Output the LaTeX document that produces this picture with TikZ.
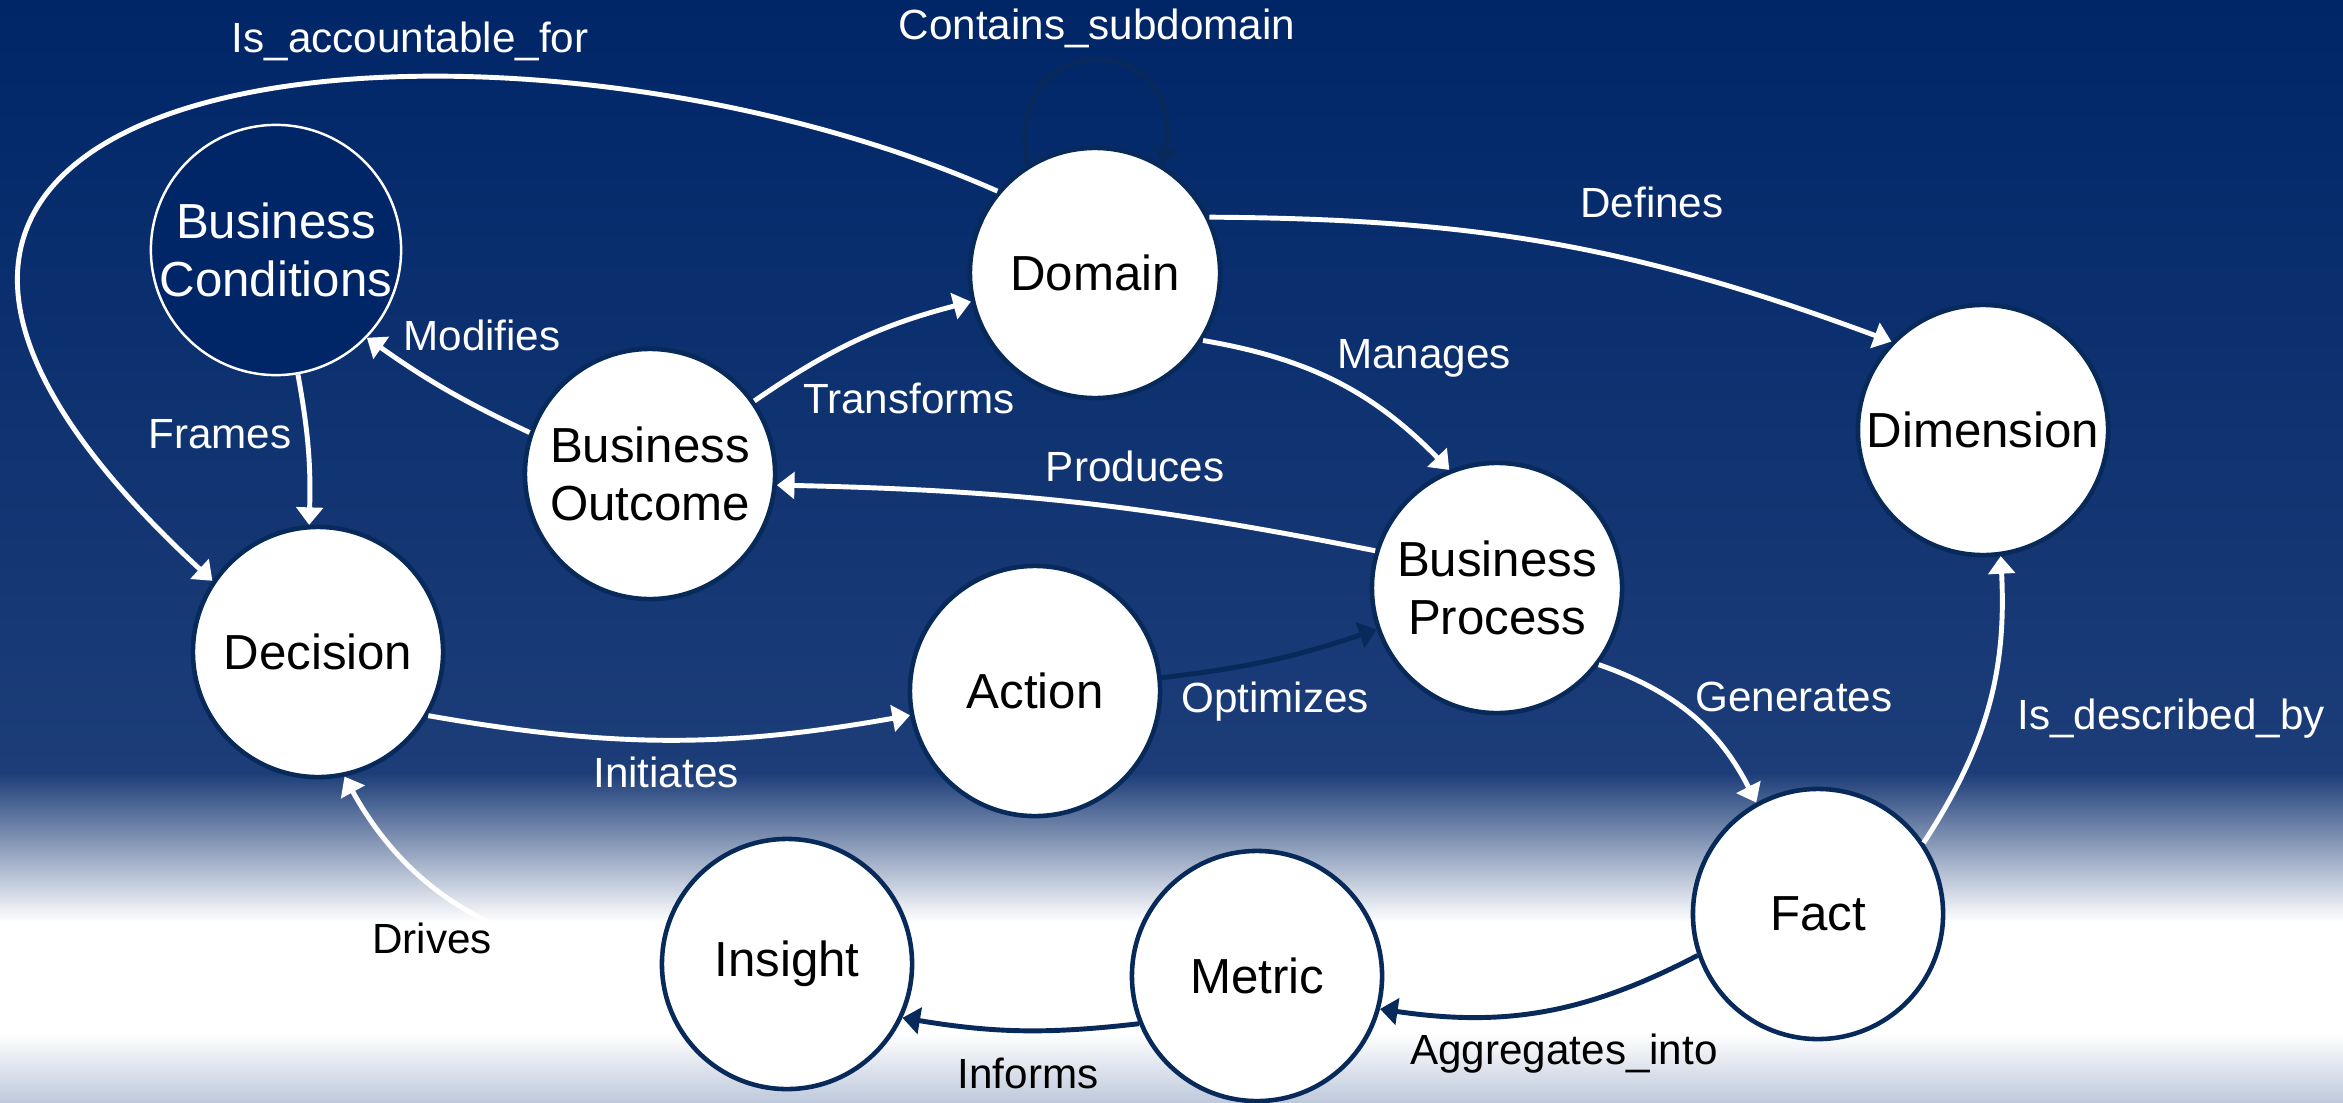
\documentclass[tikz,border=0pt]{standalone}
\usepackage{fontspec}
\setmainfont{Liberation Sans}
\usetikzlibrary{arrows.meta}

\definecolor{bgtop}{RGB}{0,38,104}
\definecolor{bgmid}{RGB}{28,61,120}
\definecolor{bglow}{RGB}{190,201,220}
\definecolor{navy} {RGB}{8,42,90}

\begin{document}
\begin{tikzpicture}[x=0.01cm,y=0.01cm,
    concept/.style={circle,draw=navy,line width=1.3pt,fill=white,minimum size=2.5cm,
                    inner sep=0pt,align=center,font=\fontsize{14}{16.5}\selectfont},
    context/.style={concept,draw=white,line width=0.7pt,fill=bgtop,text=white},
    rel/.style={-{Triangle[length=5pt,width=7.5pt]},line width=1.4pt,white},
    reldark/.style={rel,navy},
    lbl/.style={white,inner sep=0pt,text height=1.38ex,text depth=0pt,
                font=\fontsize{12}{14}\selectfont},
    lbldark/.style={lbl,black}]

    % background bands
    \useasboundingbox (0,0) rectangle (2343,1102);
    \shade[top color=bgtop,bottom color=bgmid] (0,329) rectangle (2343,1102);
    \shade[top color=bgmid,bottom color=white] (0,180) rectangle (2343,329);
    \fill[white] (0,69) rectangle (2343,180);
    \shade[top color=white,bottom color=bglow] (0,0) rectangle (2343,69);

    \node[context] (bc)   at (276,852)  {Business\\Conditions};
    \node[concept] (dom)  at (1095,829) {Domain};
    \node[concept] (dim)  at (1983,672) {Dimension};
    \node[concept] (out)  at (650,628)  {Business\\Outcome};
    \node[concept] (proc) at (1497,514) {Business\\Process};
    \node[concept] (dec)  at (318,450)  {Decision};
    \node[concept] (act)  at (1035,411) {Action};
    \node[concept] (fact) at (1818,188) {Fact};
    \node[concept] (met)  at (1257,126) {Metric};
    \node[concept] (ins)  at (787,138)  {Insight};

    \draw[rel] (dom.140) .. controls +(-499,221) and +(-572,528) .. (dec.146);
    \draw[reldark] (dom.122) .. controls +(101:143) and +(80:138) .. (dom.58);
    \draw[rel] (bc.-80) to[bend left=6] (dec.94);
    \draw[rel] (out.161) to[bend left=5] (bc.-44);
    \draw[rel] (out.35) to[bend left=10] (dom.193);
    \draw[rel] (dom.26) to[bend left=10] (dim.136);
    \draw[rel] (dom.-32) to[bend left=18] (proc.112);
    \draw[rel] (proc.163) to[bend right=5] (out.-5);
    \draw[rel] (dec.-30) to[bend right=10] (act.191);
    \draw[reldark] (act.6) to[bend right=6] (proc.199);
    \draw[rel] (proc.-37) to[bend left=22] (fact.119);
    \draw[rel] (fact.34) to[bend right=18] (dim.-82);
    \draw[reldark] (fact.199) to[bend left=18] (met.-15);
    \draw[reldark] (met.202) to[bend left=8] (ins.-25);
    \draw[rel] (ins.175) to[bend left=32] (dec.-78);

    \node[lbl] (lacc) at (410,1062) {Is\_accountable\_for};
    \node[lbl] (lsub) at (1097,1075) {Contains\_subdomain};
    \node[lbl] (lfra) at (220,666)  {Frames};
    \node[lbl] (lmod) at (482,764)  {Modifies};
    \node[lbl] (ltra) at (909,701)  {Transforms};
    \node[lbl] (ldef) at (1652,897) {Defines};
    \node[lbl] (lman) at (1424,746) {Manages};
    \node[lbl] (lpro) at (1135,633) {Produces};
    \node[lbl] (lopt) at (1275,402) {Optimizes};
    \node[lbl] (lini) at (666,327)  {Initiates};
    \node[lbl] (lgen) at (1794,403) {Generates};
    \node[lbl] (ldes) at (2171,385) {Is\_described\_by};
    \node[lbldark] (ldri) at (432,161)  {Drives};
    \node[lbldark] (lagg) at (1564,50)  {Aggregates\_into};
    \node[lbldark] (linf) at (1028,26)  {Informs};

\end{tikzpicture}
\end{document}
